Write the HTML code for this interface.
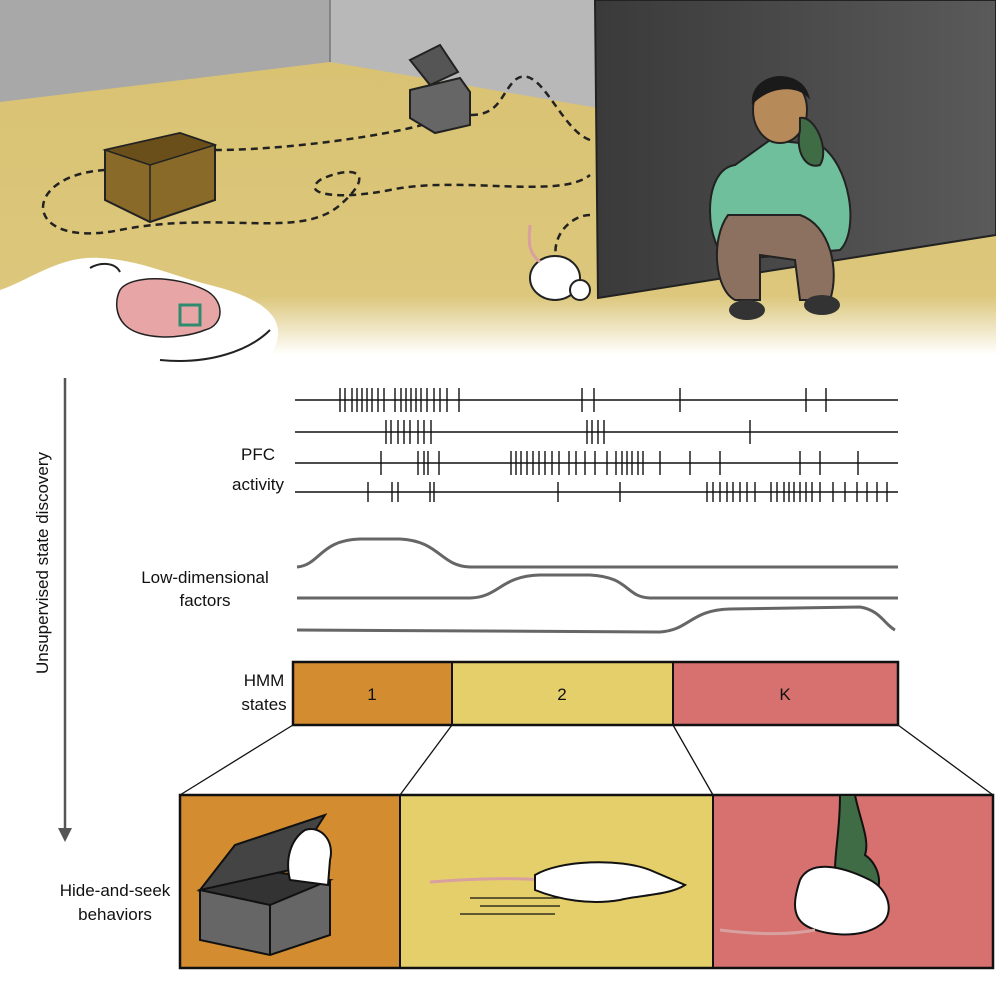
<!DOCTYPE html>
<html><head><meta charset="utf-8"><style>
html,body{margin:0;padding:0;background:#fff;}
svg{display:block;}
text{font-family:"Liberation Sans",sans-serif;fill:#111;}
</style></head><body>
<svg width="996" height="996" viewBox="0 0 996 996" xmlns="http://www.w3.org/2000/svg">
<defs>
<linearGradient id="floorfade" x1="0" y1="0" x2="0" y2="1">
<stop offset="0" stop-color="#d9c272"/><stop offset="0.8" stop-color="#dcc77c"/><stop offset="1" stop-color="#ffffff"/></linearGradient>
<linearGradient id="dark" x1="0" y1="0" x2="1" y2="0"><stop offset="0" stop-color="#3a3a3a"/><stop offset="1" stop-color="#5a5a5a"/></linearGradient>
</defs>
<rect x="0" y="60" width="996" height="295" fill="url(#floorfade)"/>
<polygon points="0,0 330,0 330,62 0,102" fill="#a8a8a8"/>
<polygon points="330,0 598,0 598,108 330,62" fill="#b8b8b8"/>
<line x1="330" y1="0" x2="330" y2="62" stroke="#777" stroke-width="1.5"/>
<polygon points="595,0 996,0 996,235 598,298" fill="url(#dark)" stroke="#222" stroke-width="2"/>
<path d="M590,140 C560,130 540,60 515,80 C500,95 500,115 470,115 M435,120 C420,130 300,150 215,150 M105,170 C20,175 20,250 120,230 C220,210 300,240 340,205 C380,170 350,165 320,180 C300,195 340,200 390,190 C460,175 560,200 590,175 M590,215 C570,215 545,240 560,270" fill="none" stroke="#222" stroke-width="2.5" stroke-dasharray="7,5"/>
<polygon points="105,150 180,133 215,145 215,200 150,222 105,200" fill="#8a6a28" stroke="#222" stroke-width="2"/>
<polygon points="105,150 180,133 215,145 150,165" fill="#6b4f1a" stroke="#222" stroke-width="1.5"/>
<line x1="150" y1="165" x2="150" y2="222" stroke="#222" stroke-width="1.5"/>
<polygon points="410,90 460,78 470,92 470,125 435,133 410,118" fill="#666" stroke="#222" stroke-width="2"/>
<polygon points="410,60 440,45 458,72 430,85" fill="#555" stroke="#222" stroke-width="2"/>
<path d="M735,165 C700,170 705,250 730,260 L840,250 C860,230 850,165 820,145 L770,140 Z" fill="#6fbf9c" stroke="#222" stroke-width="2"/>
<path d="M728,215 C710,240 715,290 735,300 L760,300 L760,255 L795,260 L800,300 L830,300 C840,270 830,225 800,215 Z" fill="#8c7160" stroke="#222" stroke-width="2"/>
<ellipse cx="747" cy="310" rx="18" ry="10" fill="#333"/><ellipse cx="822" cy="305" rx="18" ry="10" fill="#333"/>
<ellipse cx="780" cy="110" rx="27" ry="33" fill="#b78a5a" stroke="#222" stroke-width="2"/>
<path d="M752,105 C748,70 805,65 810,100 C800,85 770,85 752,105Z" fill="#1a1a1a"/>
<path d="M800,118 C815,115 830,150 820,165 C805,170 795,150 800,130Z" fill="#3f6b45" stroke="#222" stroke-width="2"/>
<ellipse cx="555" cy="278" rx="25" ry="22" fill="#fff" stroke="#222" stroke-width="2"/>
<circle cx="580" cy="290" r="10" fill="#fff" stroke="#222" stroke-width="2"/>
<path d="M540,262 C525,250 530,235 530,225" fill="none" stroke="#d9a0a0" stroke-width="3"/>
<path d="M0,290 C30,280 60,255 100,258 C140,260 170,275 210,285 C250,295 280,310 278,335 C275,365 235,398 190,400 C120,402 60,395 0,385 Z" fill="#fff"/>
<path d="M90,268 C100,262 115,262 120,272" fill="none" stroke="#222" stroke-width="2"/>
<path d="M120,290 C130,275 175,275 205,290 C225,300 225,325 205,330 C180,340 140,340 125,325 C115,315 115,300 120,290Z" fill="#e8a5a6" stroke="#222" stroke-width="1.5"/>
<rect x="180" y="305" width="20" height="20" fill="none" stroke="#2e8b6e" stroke-width="3"/>
<path d="M160,360 C210,365 250,350 270,330" fill="none" stroke="#222" stroke-width="2"/>
<line x1="65" y1="378" x2="65" y2="830" stroke="#555" stroke-width="2.5"/>
<polygon points="58,828 72,828 65,842" fill="#555"/>
<text transform="translate(48,563) rotate(-90)" font-size="17" text-anchor="middle">Unsupervised state discovery</text>
<g stroke="#111" stroke-width="1.5">
<line x1="295" y1="400" x2="898" y2="400"/><line x1="295" y1="432" x2="898" y2="432"/>
<line x1="295" y1="463" x2="898" y2="463"/><line x1="295" y1="492" x2="898" y2="492"/>
</g>
<text x="258" y="460" font-size="17" text-anchor="middle">PFC</text>
<text x="258" y="490" font-size="17" text-anchor="middle">activity</text>
<g fill="none" stroke="#666" stroke-width="3">
<path d="M297,567 C320,565 320,540 360,539 L400,539 C440,541 440,566 470,567 L898,567"/>
<path d="M297,598 L470,598 C500,597 500,576 540,575 L590,575 C630,577 625,597 650,598 L898,598"/>
<path d="M297,630 L660,632 C690,630 690,610 730,609 L860,607 C880,610 885,625 895,630"/>
</g>
<text x="205" y="583" font-size="17" text-anchor="middle">Low-dimensional</text>
<text x="205" y="606" font-size="17" text-anchor="middle">factors</text>
<rect x="293" y="662" width="159" height="63" fill="#d38c30"/>
<rect x="452" y="662" width="221" height="63" fill="#e5cf6a"/>
<rect x="673" y="662" width="225" height="63" fill="#d6716f"/>
<rect x="293" y="662" width="605" height="63" fill="none" stroke="#111" stroke-width="2.5"/>
<line x1="452" y1="662" x2="452" y2="725" stroke="#111" stroke-width="2"/>
<line x1="673" y1="662" x2="673" y2="725" stroke="#111" stroke-width="2"/>
<text x="372" y="700" font-size="17" text-anchor="middle">1</text>
<text x="562" y="700" font-size="17" text-anchor="middle">2</text>
<text x="785" y="700" font-size="17" text-anchor="middle">K</text>
<text x="264" y="686" font-size="17" text-anchor="middle">HMM</text>
<text x="264" y="710" font-size="17" text-anchor="middle">states</text>
<g stroke="#111" stroke-width="1.3">
<line x1="293" y1="725" x2="180" y2="795"/><line x1="452" y1="725" x2="400" y2="795"/>
<line x1="673" y1="725" x2="713" y2="795"/><line x1="898" y1="725" x2="993" y2="795"/>
</g>
<rect x="180" y="795" width="220" height="173" fill="#d38c30"/>
<rect x="400" y="795" width="313" height="173" fill="#e5cf6a"/>
<rect x="713" y="795" width="280" height="173" fill="#d6716f"/>
<rect x="180" y="795" width="813" height="173" fill="none" stroke="#111" stroke-width="2.5"/>
<line x1="400" y1="795" x2="400" y2="968" stroke="#111" stroke-width="2"/>
<line x1="713" y1="795" x2="713" y2="968" stroke="#111" stroke-width="2"/>
<polygon points="200,890 260,870 330,880 330,935 270,955 200,940" fill="#666" stroke="#111" stroke-width="2"/>
<polygon points="200,890 270,905 330,880 260,870" fill="#333" stroke="#111" stroke-width="2"/>
<line x1="270" y1="905" x2="270" y2="955" stroke="#111" stroke-width="2"/>
<polygon points="200,890 235,845 325,815 290,870" fill="#444" stroke="#111" stroke-width="2"/>
<path d="M290,880 C285,860 290,840 305,830 C320,825 335,840 330,860 L328,885Z" fill="#fff" stroke="#111" stroke-width="2"/>
<path d="M430,882 C480,878 520,878 540,880" fill="none" stroke="#d9a0a0" stroke-width="3"/>
<path d="M535,875 C560,860 620,858 650,870 L685,885 C670,895 640,895 620,900 C590,905 560,900 535,890Z" fill="#fff" stroke="#111" stroke-width="2"/>
<g stroke="#111" stroke-width="1.3"><line x1="470" y1="898" x2="560" y2="898"/><line x1="480" y1="906" x2="560" y2="906"/><line x1="460" y1="914" x2="555" y2="914"/></g>
<path d="M840,795 L855,795 C860,820 870,840 865,855 C880,865 885,890 870,900 C850,905 835,890 835,870 C835,850 840,830 840,795Z" fill="#3f6b45" stroke="#111" stroke-width="2"/>
<path d="M800,880 C810,860 840,865 870,880 C890,890 895,915 880,925 C860,940 820,935 805,925 C790,915 795,895 800,880Z" fill="#fff" stroke="#111" stroke-width="2"/>
<path d="M720,930 C760,935 790,935 815,930" fill="none" stroke="#d9a0a0" stroke-width="3"/>
<text x="115" y="896" font-size="17" text-anchor="middle">Hide-and-seek</text>
<text x="115" y="920" font-size="17" text-anchor="middle">behaviors</text>
<g stroke="#111" stroke-width="1.4" fill="none">
<path d="M340,388v24M345,388v24M352,388v24M357,388v24M362,388v24M367,388v24M372,388v24M378,388v24M384,388v24M395,388v24M401,388v24M406,388v24M411,388v24M416,388v24M421,388v24M427,388v24M434,388v24M440,388v24M447,388v24M459,388v24M582,388v24M594,388v24M680,388v24M806,388v24M826,388v24"/>
<path d="M386,420v24M391,420v24M398,420v24M404,420v24M410,420v24M418,420v24M424,420v24M431,420v24M587,420v24M592,420v24M598,420v24M604,420v24M750,420v24"/>
<path d="M381,451v24M418,451v24M424,451v24M428,451v24M439,451v24M511,451v24M516,451v24M521,451v24M527,451v24M533,451v24M539,451v24M545,451v24M552,451v24M559,451v24M569,451v24M576,451v24M585,451v24M595,451v24M607,451v24M616,451v24M622,451v24M627,451v24M632,451v24M638,451v24M643,451v24M660,451v24M690,451v24M720,451v24M800,451v24M820,451v24M858,451v24"/>
<path d="M368,482v20M392,482v20M398,482v20M430,482v20M434,482v20M558,482v20M620,482v20M707,482v20M713,482v20M720,482v20M727,482v20M733,482v20M740,482v20M747,482v20M755,482v20M771,482v20M777,482v20M784,482v20M789,482v20M794,482v20M800,482v20M806,482v20M812,482v20M820,482v20M833,482v20M845,482v20M857,482v20M867,482v20M877,482v20M887,482v20"/>
</g>
</svg>
</body></html>
